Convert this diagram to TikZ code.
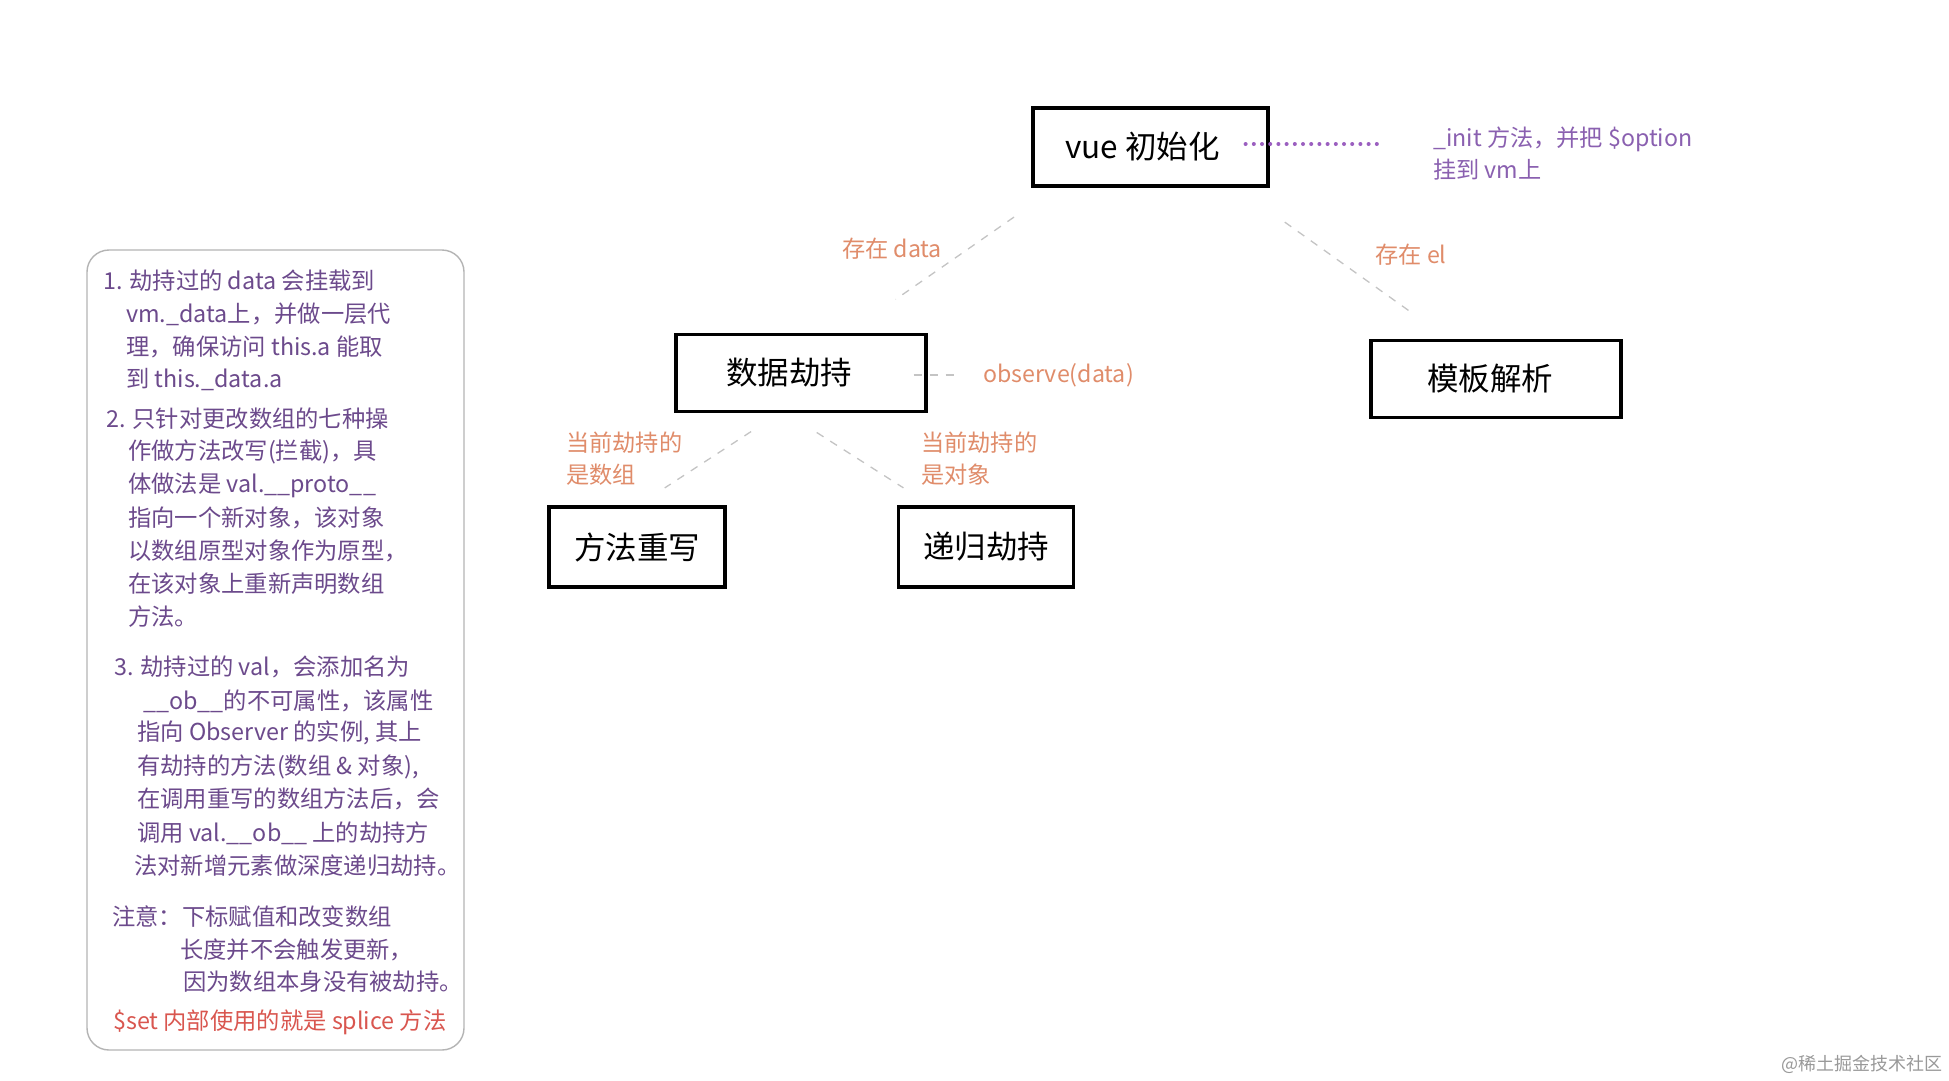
\documentclass[tikz,border=0pt]{standalone}
\usepackage{fontspec}
\setmainfont{Noto Sans CJK SC}
\usetikzlibrary{calc}
\definecolor{boxtxt}{HTML}{6C4A8C}
\definecolor{inittxt}{HTML}{8A60B0}
\definecolor{lbl}{HTML}{E08C6A}
\definecolor{settxt}{HTML}{D9564F}
\definecolor{dotc}{HTML}{9B5FC0}
\definecolor{dashc}{HTML}{C4C4C4}
\definecolor{panelc}{HTML}{B4B4B4}
\begin{document}
\begin{tikzpicture}[x=1pt,y=-1pt,
  stepbox/.style={draw=black, line width=3.2pt, inner sep=0pt, font=\fontsize{31.5}{36}\selectfont},
  lbltext/.style={text=lbl, inner sep=0pt, font=\fontsize{23.2}{32}\selectfont, align=left},
  ln/.style={anchor=west, inner sep=0pt, text=boxtxt, font=\fontsize{23.3}{27}\selectfont},
  dashln/.style={draw=dashc, line width=1.3pt, dash pattern=on 8pt off 8pt},
  dotln/.style={draw=dotc, line width=4pt, line cap=round, dash pattern=on 0pt off 8.2pt}]
\useasboundingbox[fill=white] (0,0) rectangle (1949,1080);

% main boxes
\node[stepbox, minimum width=235pt, minimum height=78pt] (vue) at (1150.5,147) {vue 初始化\hspace*{16pt}};
\node[stepbox, minimum width=250pt, minimum height=77pt] (data) at (801,373) {数据劫持\hspace*{24pt}};
\node[stepbox, minimum width=250pt, minimum height=77pt] (tmpl) at (1496,379) {模板解析\hspace*{12pt}};
\node[stepbox, minimum width=176pt, minimum height=80pt] (method) at (637,547) {方法重写};
\node[stepbox, minimum width=175pt, minimum height=80pt] (recur) at (986,547) {递归劫持};

% labels
\node[lbltext, text=inittxt, anchor=west] (init) at (1433,154) {\_init 方法，并把 \$option\\挂到 vm上};
\node[lbltext] (lblData) at (892,249) {存在 data};
\node[lbltext] (lblEl) at (1411,255) {存在 el};
\node[lbltext, anchor=west] (obs) at (983,375) {observe(data)};
\node[lbltext, anchor=west] (lblArr) at (566,459) {当前劫持的\\是数组};
\node[lbltext, anchor=west] (lblObj) at (921,459) {当前劫持的\\是对象};

% connectors
\draw[dotln] ($(vue.east)+(-24,-3)$) -- ($(init.west)+(-51,-10)$);
\draw[dashln, shorten <=51.6pt, shorten >=58.8pt] ($(vue.south west)+(25,0)$) -- ($(data.north west)+(173,0)$);
\draw[dashln, shorten <=59.4pt, shorten >=45.8pt] ($(vue.south west)+(205,0)$) -- ($(tmpl.north west)+(79,0)$);
\draw[dashln, shorten <=33.8pt, shorten >=32pt] ($(data.south west)+(105,0)$) -- ($(method.north west)+(90.5,0)$);
\draw[dashln, shorten <=36pt, shorten >=32.6pt] ($(data.south west)+(112,0)$) -- ($(recur.north west)+(34,0)$);
\draw[dashln] ($(data.east)+(-14,2)$) -- ($(obs.west)+(-22,0)$);

% left panel
\node[draw=panelc, line width=1.4pt, rounded corners=22pt, minimum width=377pt, minimum height=800pt, inner sep=0pt] (panel) at (275.5,650) {};
\node[ln] (l1) at (103,281) {1. 劫持过的 data 会挂载到};
\node[ln] (l2) at (126,314) {vm.\_data上，并做一层代};
\node[ln] (l3) at (126,347) {理，确保访问 this.a 能取};
\node[ln] (l4) at (126,380) {到 this.\_data.a};
\node[ln] (l5) at (106,419) {2. 只针对更改数组的七种操};
\node[ln] (l6) at (128,452) {作做方法改写(拦截)，具};
\node[ln] (l7) at (128,485) {体做法是 val.\_\_proto\_\_};
\node[ln] (l8) at (128,518) {指向一个新对象，该对象};
\node[ln] (l9) at (128,551) {以数组原型对象作为原型，};
\node[ln] (l10) at (128,584) {在该对象上重新声明数组};
\node[ln] (l11) at (128,617) {方法。};
\node[ln] (l12) at (114,667) {3. 劫持过的 val，会添加名为};
\node[ln] (l13) at (143,701) {\_\_ob\_\_的不可属性，该属性};
\node[ln] (l14) at (137,733) {指向 Observer 的实例, 其上};
\node[ln] (l15) at (137,767) {有劫持的方法(数组 \& 对象),};
\node[ln] (l16) at (137,799) {在调用重写的数组方法后，会};
\node[ln] (l17) at (137,833) {调用 val.\_\_ob\_\_ 上的劫持方};
\node[ln] (l18) at (134,866) {法对新增元素做深度递归劫持。};
\node[ln] (l19) at (112,917) {注意：下标赋值和改变数组};
\node[ln] (l20) at (180,950) {长度并不会触发更新，};
\node[ln] (l21) at (183,982) {因为数组本身没有被劫持。};
\node[ln, text=settxt] (l22) at (113,1022) {\$set 内部使用的就是 splice 方法};

% watermark
\node[anchor=west, inner sep=0pt, text=black!40, font=\fontsize{18}{22}\selectfont] (wm) at (1781,1064) {@稀土掘金技术社区};
\end{tikzpicture}
\end{document}
